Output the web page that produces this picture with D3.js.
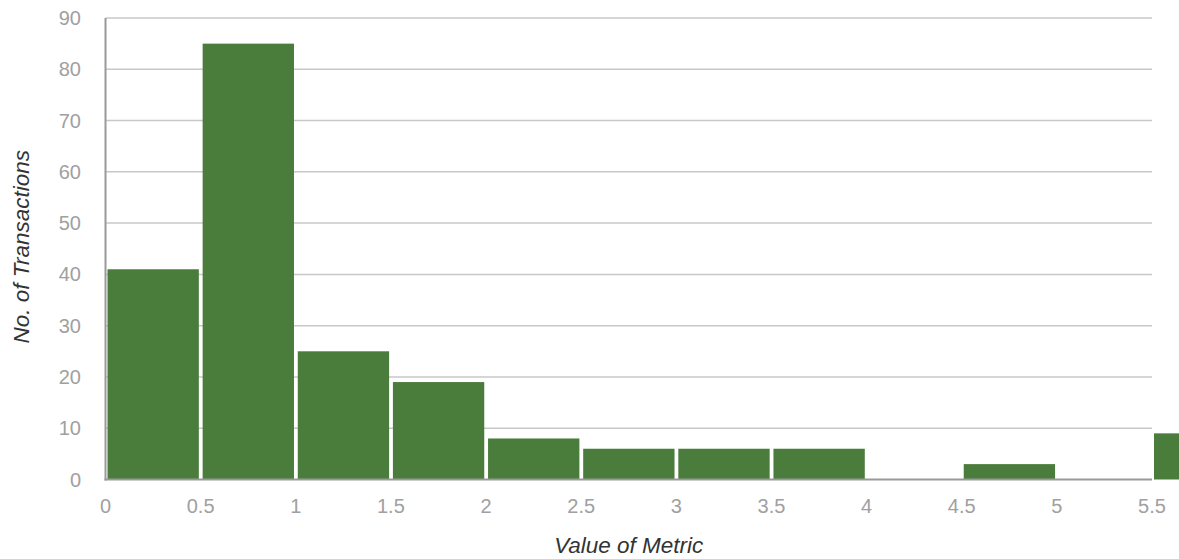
<!DOCTYPE html>
<html>
<head>
<meta charset="utf-8">
<script src="https://cdn.jsdelivr.net/npm/d3@7"></script>
<style>
  html, body { margin: 0; padding: 0; background: #fff; overflow: hidden; }
  svg { display: block; }
</style>
</head>
<body>
<svg id="chart" width="1179" height="559"></svg>
<script>
// Histogram bins (lower edge, upper edge) and counts
const binStarts = [0, 0.5, 1, 1.5, 2, 2.5, 3, 3.5, 4, 4.5, 5, 5.5];
const binEnds   = [0.5, 1, 1.5, 2, 2.5, 3, 3.5, 4, 4.5, 5, 5.5, 6];
const counts    = [41, 85, 25, 19, 8, 6, 6, 6, 0, 3, 0, 9];
const xTicks = [0, 0.5, 1, 1.5, 2, 2.5, 3, 3.5, 4, 4.5, 5, 5.5];
const xTickLabels = ["0", "0.5", "1", "1.5", "2", "2.5", "3", "3.5", "4", "4.5", "5", "5.5"];
const yTicks = [0, 10, 20, 30, 40, 50, 60, 70, 80, 90];
const xTitle = "Value of Metric";
const yTitle = "No. of Transactions";

const svg = d3.select("#chart");
const pLeft = 105.5, pRight = 1152, pTop = 18, pBottom = 479.5;

const x = d3.scaleLinear().domain([0, 5.5]).range([pLeft, pRight]);
const y = d3.scaleLinear().domain([0, 90]).range([pBottom, pTop]);

// gridlines
svg.append("g").selectAll("line").data(yTicks.filter(d => d > 0)).join("line")
  .attr("x1", pLeft).attr("x2", pRight)
  .attr("y1", d => y(d)).attr("y2", d => y(d))
  .attr("stroke", "#c8c8c8").attr("stroke-width", 1.5);

// bars
const bins = binStarts.map((s, i) => ({ s, e: binEnds[i], c: counts[i] }));
svg.append("g").selectAll("rect").data(bins.filter(d => d.c > 0)).join("rect")
  .attr("x", d => x(d.s) + 2)
  .attr("width", d => x(d.e) - x(d.s) - 3.8)
  .attr("y", d => y(d.c))
  .attr("height", d => pBottom - y(d.c))
  .attr("fill", "#4a7c3b");

// axes lines
svg.append("line").attr("x1", pLeft).attr("x2", pLeft).attr("y1", pTop).attr("y2", pBottom + 1)
  .attr("stroke", "#999").attr("stroke-width", 2);
svg.append("line").attr("x1", pLeft - 1).attr("x2", pRight).attr("y1", pBottom).attr("y2", pBottom)
  .attr("stroke", "#999").attr("stroke-width", 2);

// y tick labels
svg.append("g").selectAll("text").data(yTicks).join("text")
  .attr("x", 81).attr("y", d => y(d))
  .attr("dy", "0.35em")
  .attr("text-anchor", "end")
  .attr("font-family", "Liberation Sans, Arial, sans-serif")
  .attr("font-size", 20)
  .attr("fill", "#a0a0a0")
  .text(d => d);

// x tick labels
svg.append("g").selectAll("text").data(xTicks).join("text")
  .attr("x", d => x(d)).attr("y", 506)
  .attr("dy", "0.35em")
  .attr("text-anchor", "middle")
  .attr("font-family", "Liberation Sans, Arial, sans-serif")
  .attr("font-size", 20)
  .attr("fill", "#a0a0a0")
  .text((d, i) => xTickLabels[i]);

// axis titles
svg.append("text")
  .attr("x", (pLeft + pRight) / 2).attr("y", 545)
  .attr("dy", "0.35em")
  .attr("text-anchor", "middle")
  .attr("font-family", "Liberation Sans, Arial, sans-serif")
  .attr("font-size", 22.5)
  .attr("font-style", "italic")
  .attr("fill", "#333")
  .text(xTitle);

svg.append("text")
  .attr("transform", `translate(21, ${(pTop + pBottom) / 2 - 2}) rotate(-90)`)
  .attr("dy", "0.35em")
  .attr("text-anchor", "middle")
  .attr("font-family", "Liberation Sans, Arial, sans-serif")
  .attr("font-size", 22.5)
  .attr("font-style", "italic")
  .attr("fill", "#333")
  .text(yTitle);
</script>
</body>
</html>
